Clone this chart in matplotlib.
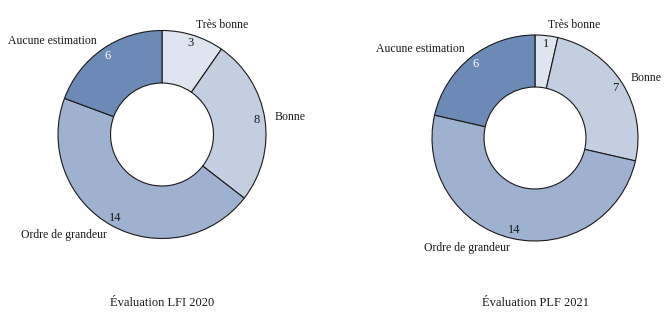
import matplotlib
matplotlib.use("Agg")
import matplotlib.pyplot as plt
import numpy as np

categories = ["Très bonne", "Bonne", "Ordre de grandeur", "Aucune estimation"]
values_lfi2020 = [3, 8, 14, 6]
values_plf2021 = [1, 7, 14, 6]
titles = ["Évaluation LFI 2020", "Évaluation PLF 2021"]
colors = ["#dfe5ef", "#c3cee1", "#9eb1cf", "#6d8ab6"]
value_colors = ["#1a1a1a", "#1a1a1a", "#1a1a1a", "white"]

W, H = 664, 323
fig = plt.figure(figsize=(W / 100, H / 100), dpi=100)
ax = fig.add_axes([0, 0, 1, 1])

font = dict(family=["Liberation Serif", "DejaVu Serif"], size=8.5)

layouts = [dict(center=(162, H - 134.5), radius=104, title_y=H - 303),
           dict(center=(535, H - 138), radius=103, title_y=H - 303)]

for vals, title, lay in zip([values_lfi2020, values_plf2021], titles, layouts):
    total = sum(vals)
    wedges, texts, autotexts = ax.pie(
        vals, labels=categories, colors=colors, startangle=90, counterclock=False,
        center=lay["center"], radius=lay["radius"], labeldistance=1.1,
        autopct=lambda p, t=total: f"{round(p * t / 100)}", pctdistance=0.92,
        wedgeprops=dict(width=lay["radius"] * 0.505, edgecolor="#1a1a1a", linewidth=0.8),
        textprops=font, frame=True)
    for at, c in zip(autotexts, value_colors):
        at.set_color(c)
        at.set_fontsize(9)
    for t, w in zip(texts, wedges):
        t.set_color("#1a1a1a")
        mid = np.deg2rad((w.theta1 + w.theta2) / 2)
        t.set_ha("left" if np.cos(mid) > 0 else "right")
    ax.text(lay["center"][0], lay["title_y"], title, ha="center", va="center",
            color="#1a1a1a", family=["Liberation Serif", "DejaVu Serif"], fontsize=9)

ax.set_xlim(0, W)
ax.set_ylim(0, H)
ax.set_aspect("auto")
ax.axis("off")
fig.savefig("out.png", dpi=100)
